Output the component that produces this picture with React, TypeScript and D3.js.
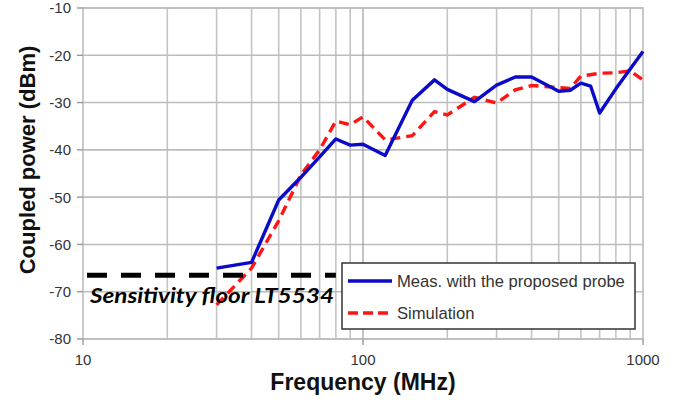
import React from "react";
import * as d3 from "d3";

// measured probe data (MHz, dBm)
const measFreq = [30, 40, 50, 60, 70, 80, 90, 100, 120, 150, 180, 200, 250, 300, 350, 400, 500, 550, 600, 650, 700, 800, 900, 1000];
const measPower = [-65, -63.8, -50.6, -45.8, -41.5, -37.7, -39, -38.8, -41.2, -29.5, -25.2, -27.2, -29.8, -26.3, -24.6, -24.6, -27.6, -27.4, -25.9, -26.5, -32.2, -27.1, -22.9, -19.2];

// simulation data
const simFreq = [30, 40, 50, 60, 70, 80, 90, 100, 120, 150, 180, 200, 250, 300, 350, 400, 500, 550, 600, 700, 800, 900, 1000];
const simPower = [-72.8, -65, -55, -45.3, -40, -33.9, -34.7, -33, -37.9, -37, -31.9, -32.6, -28.9, -30.1, -27.3, -26.4, -26.8, -27, -24.4, -23.8, -23.7, -23.3, -25.2];

const yTicks = [-80, -70, -60, -50, -40, -30, -20, -10];
const xMajor = [10, 100, 1000];
const xMinor = [20, 30, 40, 50, 60, 70, 80, 90, 200, 300, 400, 500, 600, 700, 800, 900];
const sensitivityFloor = -66.5;

const W = 683;
const H = 405;
const m = { left: 83, right: 40, top: 8, bottom: 66 };

export default function App() {
  const x = d3.scaleLog().domain([10, 1000]).range([m.left, W - m.right]);
  const y = d3.scaleLinear().domain([-80, -10]).range([H - m.bottom, m.top]);

  const line = d3
    .line<[number, number]>()
    .x((d) => x(d[0]))
    .y((d) => y(d[1]));

  const meas = measFreq.map((f, i) => [f, measPower[i]] as [number, number]);
  const sim = simFreq.map((f, i) => [f, simPower[i]] as [number, number]);

  const [x0, x1] = x.range();
  const [y0, y1] = y.range();
  const lab = "Arial, 'Liberation Sans', sans-serif";

  return (
    <svg width={W} height={H} style={{ position: "absolute", left: 0, top: 0 }}>
      <rect width={W} height={H} fill="#fff" />

      {/* grid */}
      {xMinor.map((v) => (
        <line key={"vx" + v} x1={x(v)} x2={x(v)} y1={y1} y2={y0} stroke="#c4c4c4" strokeWidth={1.6} />
      ))}
      {yTicks.map((v) => (
        <line key={"hy" + v} x1={x0} x2={x1} y1={y(v)} y2={y(v)} stroke="#bcbcbc" strokeWidth={1.6} />
      ))}
      <line x1={x(100)} x2={x(100)} y1={y1} y2={y0} stroke="#8a8a8a" strokeWidth={1} />
      <rect x={x0} y={y1} width={x1 - x0} height={y0 - y1} fill="none" stroke="#bcbcbc" strokeWidth={1.6} />

      {/* ticks */}
      {yTicks.map((v) => (
        <g key={"yt" + v}>
          <line x1={x0 - 6} x2={x0} y1={y(v)} y2={y(v)} stroke="#999" strokeWidth={1.4} />
          <text x={x0 - 12} y={y(v)} dy="0.36em" textAnchor="end" fontFamily={lab} fontSize={15} fill="#333">
            {v}
          </text>
        </g>
      ))}
      {xMajor.map((v) => (
        <g key={"xt" + v}>
          <line x1={x(v)} x2={x(v)} y1={y0} y2={y0 + 6} stroke="#999" strokeWidth={1.4} />
          <text x={x(v)} y={y0 + 26} textAnchor="middle" fontFamily={lab} fontSize={15} fill="#333">
            {v}
          </text>
        </g>
      ))}

      {/* series */}
      <path d={line(sim) || ""} fill="none" stroke="#ff1414" strokeWidth={3.4} strokeDasharray="10 6" />
      <path d={line(meas) || ""} fill="none" stroke="#0a0ac8" strokeWidth={3.4} strokeLinejoin="round" />

      {/* sensitivity floor */}
      <line
        x1={87}
        x2={x(80)}
        y1={y(sensitivityFloor)}
        y2={y(sensitivityFloor)}
        stroke="#000"
        strokeWidth={5}
        strokeDasharray="20 14"
      />
      <text
        x={90}
        y={303}
        fontFamily="Lato, 'Open Sans', sans-serif"
        fontWeight={700}
        fontStyle="italic"
        fontSize={20}
        textLength={244}
        lengthAdjust="spacingAndGlyphs"
        fill="#000"
      >
        Sensitivity floor LT5534
      </text>

      {/* legend */}
      <rect x={342} y={263} width={293} height={66} fill="#fff" stroke="#333" strokeWidth={1.5} />
      <line x1={348} x2={392} y1={281} y2={281} stroke="#0a0ac8" strokeWidth={3.4} />
      <text x={397} y={287} fontFamily={lab} fontSize={16.6} fill="#333">
        Meas. with the proposed probe
      </text>
      <line x1={348} x2={390} y1={313} y2={313} stroke="#ff1414" strokeWidth={3.4} strokeDasharray="10 5" />
      <text x={397} y={319} fontFamily={lab} fontSize={16.6} fill="#333">
        Simulation
      </text>

      {/* axis titles */}
      <text
        transform={`translate(35,160) rotate(-90)`}
        textAnchor="middle"
        fontFamily={lab}
        fontWeight={700}
        fontSize={22}
        fill="#111"
      >
        Coupled power (dBm)
      </text>
      <text x={363} y={390} textAnchor="middle" fontFamily={lab} fontWeight={700} fontSize={23} fill="#111">
        Frequency (MHz)
      </text>
    </svg>
  );
}
